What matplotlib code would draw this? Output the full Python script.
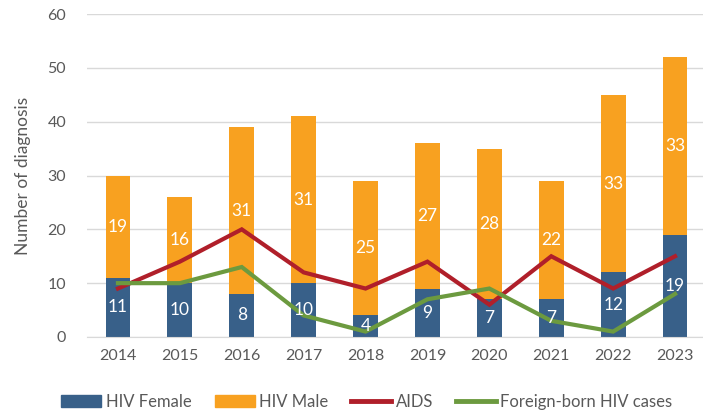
import matplotlib
matplotlib.use('Agg')
import matplotlib.pyplot as plt
import matplotlib.lines as mlines
import matplotlib.patches as mpatches
import numpy as np

plt.rcParams['font.family'] = ['Lato', 'DejaVu Sans']

years = ['2014', '2015', '2016', '2017', '2018', '2019', '2020', '2021', '2022', '2023']
hiv_female = [11, 10, 8, 10, 4, 9, 7, 7, 12, 19]
hiv_male = [19, 16, 31, 31, 25, 27, 28, 22, 33, 33]
aids = [9, 14, 20, 12, 9, 14, 6, 15, 9, 15]
foreign_born = [10, 10, 13, 4, 1, 7, 9, 3, 1, 8]

BLUE = '#386089'
ORANGE = '#F8A120'
RED = '#B01F2A'
GREEN = '#6C9A3F'
TEXT = '#595959'

fig = plt.figure(figsize=(7.03, 4.16), dpi=100)
ax = fig.add_axes([87 / 703, 0.19, 619 / 703, 0.776])

x = np.arange(len(years))
w = 0.40
ax.bar(x, hiv_female, w, color=BLUE, zorder=2)
ax.bar(x, hiv_male, w, bottom=hiv_female, color=ORANGE, zorder=2)

for i in range(len(years)):
    ax.text(x[i], hiv_female[i] / 2, str(hiv_female[i]), ha='center', va='center',
            color='white', fontsize=12.5, zorder=4)
    ax.text(x[i], hiv_female[i] + hiv_male[i] / 2, str(hiv_male[i]), ha='center', va='center',
            color='white', fontsize=12.5, zorder=4)

ax.plot(x, aids, color=RED, linewidth=3, zorder=3, solid_joinstyle='miter')
ax.plot(x, foreign_born, color=GREEN, linewidth=3, zorder=3, solid_joinstyle='miter')

ax.set_xlim(-0.5, len(years) - 0.5)
ax.set_ylim(0, 60)
ax.set_yticks(range(0, 61, 10))
ax.set_xticks(x)
ax.set_xticklabels(years)
ax.yaxis.grid(True, color='#D9D9D9', linewidth=1, zorder=0)
ax.set_axisbelow(True)
for s in ['top', 'right', 'left']:
    ax.spines[s].set_visible(False)
ax.spines['bottom'].set_color('#D9D9D9')
ax.tick_params(axis='both', length=0, labelsize=11.5, colors=TEXT)
ax.tick_params(axis='y', pad=15)
ax.tick_params(axis='x', pad=9)
ax.set_ylabel('Number of diagnosis', fontsize=12.5, color=TEXT, labelpad=12)

handles = [
    mpatches.Patch(color=BLUE),
    mpatches.Patch(color=ORANGE),
    mlines.Line2D([], [], color=RED, linewidth=3.5),
    mlines.Line2D([], [], color=GREEN, linewidth=3.5),
]
labels = ['HIV Female', 'HIV Male', 'AIDS', 'Foreign-born HIV cases']
leg = fig.legend(handles=handles, labels=labels, loc='center', ncol=4,
                 bbox_to_anchor=(0.522, 1 - 402 / 416), frameon=False, fontsize=12,
                 handlelength=2.4, handleheight=0.7, handletextpad=0.25, columnspacing=1.4)
for t in leg.get_texts():
    t.set_color(TEXT)

fig.savefig('out.png', dpi=100)
